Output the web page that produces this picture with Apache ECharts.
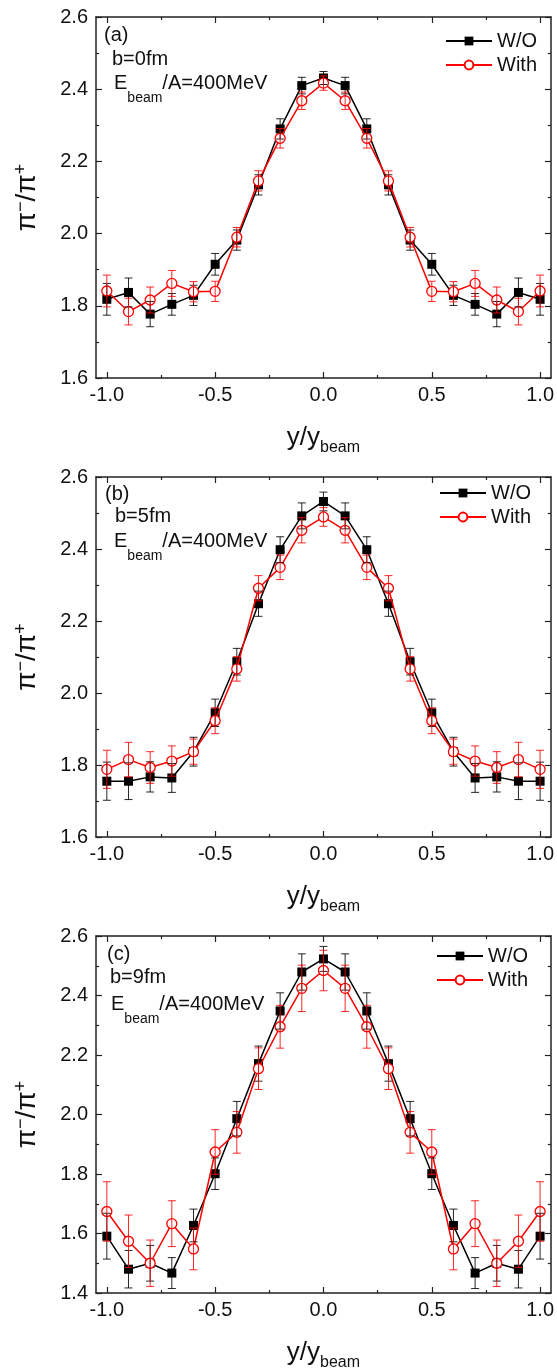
<!DOCTYPE html>
<html><head><meta charset="utf-8">
<script src="https://cdn.jsdelivr.net/npm/echarts@6/dist/echarts.min.js"></script>
<style>html,body{margin:0;padding:0;background:#fff}#c{width:557px;height:1372px}</style>
</head><body><div id="c"></div>
<script>
const X = [-1.0,-0.9,-0.8,-0.7,-0.6,-0.5,-0.4,-0.3,-0.2,-0.1,0.0,0.1,0.2,0.3,0.4,0.5,0.6,0.7,0.8,0.9,1.0];
const xMajorTicks = [-1.0,-0.5,0.0,0.5,1.0];
const xMinorTicks = [-0.75,-0.25,0.25,0.75];
const seriesNames = ['W/O','With'];
const panelLabels = ['(a)','(b)','(c)'];
const impactLabels = ['b=0fm','b=5fm','b=9fm'];

const woA     = [1.818,1.837,1.777,1.804,1.829,1.915,1.982,2.135,2.290,2.410,2.431,2.410,2.290,2.135,1.982,1.915,1.829,1.804,1.777,1.837,1.818];
const woAErr  = [0.044,0.040,0.035,0.030,0.028,0.030,0.028,0.028,0.028,0.023,0.018,0.023,0.028,0.028,0.028,0.030,0.028,0.030,0.035,0.040,0.044];
const withA   = [1.841,1.784,1.816,1.862,1.839,1.840,1.990,2.146,2.264,2.368,2.417,2.368,2.264,2.146,1.990,1.840,1.839,1.862,1.816,1.784,1.841];
const withAErr= [0.044,0.037,0.036,0.036,0.028,0.028,0.027,0.028,0.027,0.024,0.020,0.024,0.027,0.028,0.027,0.028,0.028,0.036,0.036,0.037,0.044];

const woB     = [1.755,1.755,1.767,1.764,1.837,1.945,2.087,2.248,2.398,2.492,2.532,2.492,2.398,2.248,2.087,1.945,1.837,1.764,1.767,1.755,1.755];
const woBErr  = [0.053,0.051,0.042,0.040,0.040,0.038,0.037,0.035,0.036,0.036,0.026,0.036,0.036,0.035,0.037,0.038,0.040,0.040,0.042,0.051,0.053];
const withB   = [1.788,1.815,1.793,1.811,1.837,1.923,2.067,2.291,2.349,2.452,2.489,2.452,2.349,2.291,2.067,1.923,1.837,1.811,1.793,1.815,1.788];
const withBErr= [0.053,0.048,0.044,0.042,0.035,0.036,0.034,0.035,0.034,0.035,0.026,0.035,0.034,0.035,0.034,0.036,0.035,0.042,0.044,0.048,0.053];

const woC     = [1.591,1.480,1.500,1.467,1.627,1.801,1.986,2.171,2.348,2.479,2.523,2.479,2.348,2.171,1.986,1.801,1.627,1.467,1.500,1.480,1.591];
const woCErr  = [0.077,0.063,0.060,0.052,0.055,0.053,0.058,0.059,0.061,0.061,0.042,0.061,0.061,0.059,0.058,0.053,0.055,0.052,0.060,0.063,0.077];
const withC   = [1.674,1.574,1.500,1.633,1.548,1.874,1.940,2.154,2.295,2.424,2.484,2.424,2.295,2.154,1.940,1.874,1.548,1.633,1.500,1.574,1.674];
const withCErr= [0.100,0.088,0.078,0.077,0.070,0.075,0.070,0.070,0.072,0.078,0.068,0.078,0.072,0.070,0.070,0.075,0.070,0.077,0.078,0.088,0.100];

const panels = [
  {wo: woA, woErr: woAErr, w: withA, wErr: withAErr, ymin: 1.6, ymax: 2.6, top: 17, height: 361, legLeft: 445, legTop: 31, lab: [[104,25],[112,49],[114,73]]},
  {wo: woB, woErr: woBErr, w: withB, wErr: withBErr, ymin: 1.6, ymax: 2.6, top: 477, height: 360, legLeft: 439, legTop: 483, lab: [[105,484],[115,506],[114,531]]},
  {wo: woC, woErr: woCErr, w: withC, wErr: withCErr, ymin: 1.4, ymax: 2.6, top: 936, height: 361, legLeft: 436, legTop: 946, lab: [[107,944],[110,967],[111,994]]}
];

const FONT = 'Liberation Sans, Arial, Helvetica, sans-serif';
const TXT = '#111';
const axisLine = {show: true, onZero: false, lineStyle: {color: '#222', width: 1.5}};
const noLine = {show: false, onZero: false};

const grid = [], xAxis = [], yAxis = [], series = [], legend = [], title = [];

function errData(v, e) { return X.map((x, i) => [x, v[i] - e[i], v[i] + e[i]]); }
function errSeries(p, data, color) {
  return {
    type: 'custom', xAxisIndex: 4 * p, yAxisIndex: 2 * p, silent: true, z: 5,
    encode: {x: 0, y: [1, 2]},
    data: data,
    renderItem: function (params, api) {
      const x = api.value(0);
      const a = api.coord([x, api.value(1)]);
      const b = api.coord([x, api.value(2)]);
      const hw = 4;
      const st = {stroke: color, lineWidth: 1, opacity: 0.85};
      return {type: 'group', children: [
        {type: 'line', shape: {x1: a[0], y1: a[1], x2: b[0], y2: b[1]}, style: st},
        {type: 'line', shape: {x1: a[0] - hw, y1: a[1], x2: a[0] + hw, y2: a[1]}, style: st},
        {type: 'line', shape: {x1: b[0] - hw, y1: b[1], x2: b[0] + hw, y2: b[1]}, style: st}
      ]};
    }
  };
}

panels.forEach((P, p) => {
  grid.push({left: 96, right: 4, top: P.top, height: P.height});
  xAxis.push({
    gridIndex: p, type: 'value', min: -1.05, max: 1.05, position: 'bottom',
    axisLine: axisLine,
    axisTick: {show: true, inside: true, length: 6, customValues: xMajorTicks, lineStyle: {color: '#222', width: 1.2}},
    axisLabel: {show: true, customValues: xMajorTicks, formatter: v => v.toFixed(1), fontSize: 20, color: TXT, fontFamily: FONT, margin: 7},
    splitLine: {show: false},
    name: '{a|y/y}{b|beam}', nameLocation: 'middle', nameGap: 42,
    nameTextStyle: {fontFamily: FONT, color: TXT, rich: {
      a: {fontSize: 26, fontFamily: FONT, color: TXT},
      b: {fontSize: 16, fontFamily: FONT, color: TXT, verticalAlign: 'bottom', padding: [20, 0, 0, 0]}
    }}
  });
  xAxis.push({
    gridIndex: p, type: 'value', min: -1.05, max: 1.05, position: 'bottom',
    axisLine: noLine,
    axisTick: {show: true, inside: true, length: 3, customValues: xMinorTicks, lineStyle: {color: '#222', width: 1.2}},
    axisLabel: {show: false}, splitLine: {show: false}
  });
  xAxis.push({
    gridIndex: p, type: 'value', min: -1.05, max: 1.05, position: 'top',
    axisLine: axisLine,
    axisTick: {show: true, inside: true, length: 6, customValues: xMajorTicks, lineStyle: {color: '#222', width: 1.2}},
    axisLabel: {show: false}, splitLine: {show: false}
  });
  xAxis.push({
    gridIndex: p, type: 'value', min: -1.05, max: 1.05, position: 'top',
    axisLine: noLine,
    axisTick: {show: true, inside: true, length: 3, customValues: xMinorTicks, lineStyle: {color: '#222', width: 1.2}},
    axisLabel: {show: false}, splitLine: {show: false}
  });
  const yCommon = {
    gridIndex: p, type: 'value', min: P.ymin, max: P.ymax, interval: 0.2,
    axisLine: axisLine,
    axisTick: {show: true, inside: true, length: 6, lineStyle: {color: '#222', width: 1.2}},
    minorTick: {show: true, inside: true, splitNumber: 2, length: 3, lineStyle: {color: '#222', width: 1.2}},
    splitLine: {show: false}, minorSplitLine: {show: false}
  };
  yAxis.push(Object.assign({}, yCommon, {
    position: 'left',
    axisLabel: {show: true, formatter: v => v.toFixed(1), fontSize: 20, color: TXT, fontFamily: FONT, margin: 8},
    name: '{p|π}{s|−}{p|/π}{s|+}', nameLocation: 'middle', nameRotate: 90, nameGap: 54,
    nameTextStyle: {fontFamily: FONT, color: TXT, rich: {
      p: {fontSize: 28, fontFamily: FONT, color: TXT},
      s: {fontSize: 18, fontFamily: FONT, color: TXT, verticalAlign: 'top', padding: [0, 0, 12, 0]}
    }}
  }));
  yAxis.push(Object.assign({}, yCommon, {position: 'right', axisLabel: {show: false}}));

  series.push({
    name: 'W/O', type: 'line', xAxisIndex: 4 * p, yAxisIndex: 2 * p, z: 3,
    data: X.map((x, i) => [x, P.wo[i]]),
    symbol: 'rect', symbolSize: 9, showAllSymbol: true,
    lineStyle: {color: '#000', width: 1.5}, itemStyle: {color: '#000'},
    emphasis: {disabled: true}
  });
  series.push({
    name: 'With', type: 'line', xAxisIndex: 4 * p, yAxisIndex: 2 * p, z: 4,
    data: X.map((x, i) => [x, P.w[i]]),
    symbol: 'circle', symbolSize: 10, showAllSymbol: true,
    lineStyle: {color: '#ff0000', width: 1.5},
    itemStyle: {color: '#ffffff', borderColor: '#ff0000', borderWidth: 1.3},
    emphasis: {disabled: true}
  });
  series.push(errSeries(p, errData(P.wo, P.woErr), '#000'));
  series.push(errSeries(p, errData(P.w, P.wErr), '#ff0000'));

  legend.push({
    data: seriesNames, orient: 'vertical', left: P.legLeft, top: P.legTop,
    itemWidth: 46, itemHeight: 11, itemGap: 4, itemTextGap: 6, padding: 0,
    selectedMode: false,
    textStyle: {fontSize: 20, color: TXT, fontFamily: FONT}
  });

  const ts = {fontSize: 20, color: TXT, fontFamily: FONT, fontWeight: 'normal'};
  title.push({text: panelLabels[p], left: P.lab[0][0], top: P.lab[0][1], padding: 0, textStyle: ts});
  title.push({text: impactLabels[p], left: P.lab[1][0], top: P.lab[1][1], padding: 0, textStyle: ts});
  title.push({text: '{a|E}{b|beam}{a|/A=400MeV}', left: P.lab[2][0], top: P.lab[2][1], padding: 0,
    textStyle: Object.assign({}, ts, {rich: {
      a: {fontSize: 20, color: TXT, fontFamily: FONT, verticalAlign: 'top'},
      b: {fontSize: 14, color: TXT, fontFamily: FONT, verticalAlign: 'bottom', padding: [18, 0, 0, 0]}
    }})});
});

const chart = echarts.init(document.getElementById('c'), null, {renderer: 'canvas'});
chart.setOption({
  animation: false,
  backgroundColor: '#fff',
  textStyle: {fontFamily: FONT},
  grid: grid, xAxis: xAxis, yAxis: yAxis, series: series, legend: legend, title: title
});
</script></body></html>
